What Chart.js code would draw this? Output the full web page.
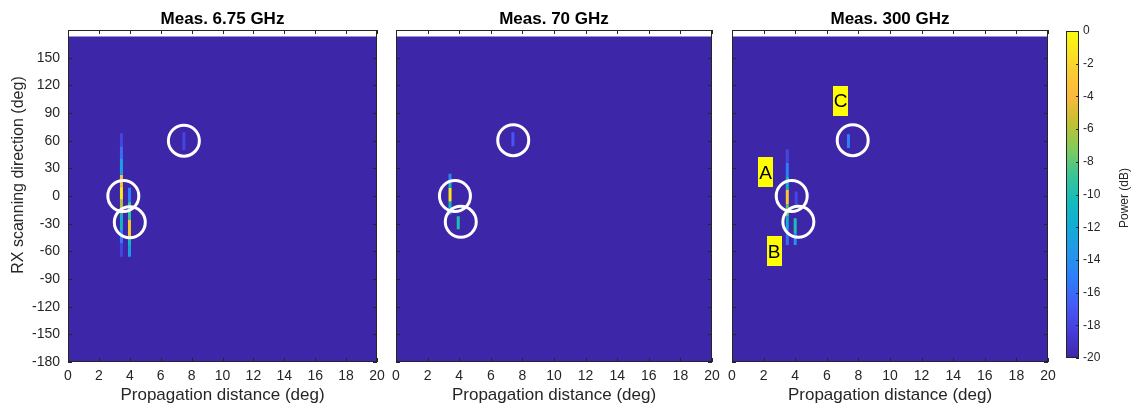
<!DOCTYPE html>
<html>
<head>
<meta charset="utf-8">
<script src="https://cdn.jsdelivr.net/npm/chart.js@4.4.1/dist/chart.umd.min.js"></script>
<style>
  html, body { margin: 0; padding: 0; background: #fff; }
  #wrap { position: relative; width: 1137px; height: 409px; overflow: hidden; }
  .pane { position: absolute; top: 0; height: 409px; }
  .pane canvas { display: block; }
</style>
</head>
<body>
<div id="wrap">
  <div class="pane" style="left:0px;width:401px"><canvas id="p1" width="401" height="409"></canvas></div>
  <div class="pane" style="left:372px;width:364px"><canvas id="p2" width="364" height="409"></canvas></div>
  <div class="pane" style="left:708px;width:364px"><canvas id="p3" width="364" height="409"></canvas></div>
  <div class="pane" style="left:1050px;width:87px"><canvas id="cb" width="87" height="409"></canvas></div>
</div>
<script>
// ---- axes ----
const xTicks = [0, 2, 4, 6, 8, 10, 12, 14, 16, 18, 20];
const yTicks = [-180, -150, -120, -90, -60, -30, 0, 30, 60, 90, 120, 150];
const cbTicks = [-20, -18, -16, -14, -12, -10, -8, -6, -4, -2, 0];
const panelTitles = ['Meas. 6.75 GHz', 'Meas. 70 GHz', 'Meas. 300 GHz'];

// ---- noise floor of the power map (dB) and its upper scan limit (deg) ----
const floorPower = -20;
const floorTopDeg = 173;

// ---- detected paths: distance (deg), scan-angle edges (deg), power per run (dB) ----
const rays675X = [3.46, 3.98, 7.5];
const rays675Edges = [[68, 54, 40, 23, 10.5, -4, -19, -37, -51, -66], [9, -6, -26, -44, -55, -66], [69, 50]];
const rays675Power = [[-18, -16, -13, -3, -1, -6, -11, -15, -18], [-15, -9, -3, -11, -13], [-18]];

const rays70X = [3.42, 3.94, 7.4];
const rays70Edges = [[24, 16, 9, -6, -13, -20], [-22, -36], [69, 54]];
const rays70Power = [[-15, -11, -1, -11, -14], [-10], [-17]];

const rays300X = [3.5, 4.0, 4.06, 7.37];
const rays300Edges = [[50.5, 36, 21.5, 7, -9, -22, -36, -53], [-24, -40, -53], [5, -12], [67, 52]];
const rays300Power = [[-18, -15, -11, -3, -8, -12, -16], [-10, -14], [-18], [-15]];

// ---- highlighted clusters (circles) ----
const rings675X = [3.58, 4.0, 7.5];
const rings675Y = [0, -28.5, 60];
const rings70X = [3.73, 4.1, 7.42];
const rings70Y = [0, -28, 60.5];
const rings300X = [3.78, 4.2, 7.64];
const rings300Y = [0, -28, 60.5];

// ---- cluster tags ----
const tagText = ['A', 'B', 'C'];
const tagX = [2.12, 2.66, 6.87];
const tagY = [25.5, -60, 103];

// ---- colormap ----
const PARULA = [
  [0.00, [62, 38, 168]], [0.08, [70, 60, 220]], [0.16, [70, 90, 245]],
  [0.24, [45, 125, 250]], [0.32, [35, 150, 235]], [0.40, [18, 172, 215]],
  [0.48, [20, 188, 188]], [0.56, [60, 196, 150]], [0.64, [130, 203, 90]],
  [0.72, [195, 192, 50]], [0.80, [250, 185, 60]], [0.88, [250, 205, 50]],
  [1.00, [249, 251, 14]]
];
function rgb(c) { return 'rgb(' + c.map(v => Math.round(v)).join(',') + ')'; }
function parula(db) {
  const t = Math.min(1, Math.max(0, (db + 20) / 20));
  for (let i = 1; i < PARULA.length; i++) {
    const [t1, c1] = PARULA[i];
    const [t0, c0] = PARULA[i - 1];
    if (t <= t1) {
      const f = (t - t0) / (t1 - t0);
      return rgb(c0.map((v, k) => v + (c1[k] - v) * f));
    }
  }
  return rgb(PARULA[PARULA.length - 1][1]);
}

const FONT = "'Liberation Sans', Arial, Helvetica, sans-serif";
const INK = '#262626';
Chart.defaults.font.family = FONT;
Chart.defaults.color = INK;

// box around the plot area with inward tick marks
const framePlugin = {
  id: 'frame',
  afterDatasetsDraw(chart, args, opts) {
    const { ctx, chartArea: a } = chart;
    const xs = chart.scales.x, ys = chart.scales.y;
    ctx.save();
    ctx.strokeStyle = INK;
    ctx.lineWidth = 1;
    const L = 4;
    ctx.beginPath();
    if (opts.kind === 'panel') {
      xTicks.forEach(v => {
        const px = Math.round(xs.getPixelForValue(v)) + 0.5;
        ctx.moveTo(px, a.bottom); ctx.lineTo(px, a.bottom - L);
        ctx.moveTo(px, a.top); ctx.lineTo(px, a.top + L);
      });
      yTicks.forEach(v => {
        const py = Math.round(ys.getPixelForValue(v)) + 0.5;
        ctx.moveTo(a.left, py); ctx.lineTo(a.left + L, py);
        ctx.moveTo(a.right, py); ctx.lineTo(a.right - L, py);
      });
    } else {
      cbTicks.forEach(v => {
        const py = Math.round(ys.getPixelForValue(v)) + 0.5;
        ctx.moveTo(a.right, py); ctx.lineTo(a.right - 3, py);
      });
    }
    ctx.stroke();
    ctx.strokeRect(Math.round(a.left) + 0.5, Math.round(a.top) + 0.5,
                   Math.round(a.right - a.left) - 1, Math.round(a.bottom - a.top) - 1);
    ctx.restore();
  }
};

// rotated axis captions that sit off-centre from the plot area
const captionPlugin = {
  id: 'caption',
  afterDraw(chart, args, opts) {
    if (!opts.text) return;
    const { ctx } = chart;
    ctx.save();
    ctx.translate(opts.x, opts.y);
    ctx.rotate(-Math.PI / 2);
    ctx.font = opts.size + 'px ' + FONT;
    ctx.fillStyle = INK;
    ctx.textAlign = 'center';
    ctx.textBaseline = 'middle';
    ctx.fillText(opts.text, 0, 0);
    ctx.restore();
  }
};

// yellow cluster tags placed in data coordinates
const tagPlugin = {
  id: 'tags',
  afterDatasetsDraw(chart, args, opts) {
    if (!opts.show) return;
    const { ctx } = chart;
    const xs = chart.scales.x, ys = chart.scales.y;
    ctx.save();
    tagText.forEach((t, i) => {
      const cx = xs.getPixelForValue(tagX[i]);
      const cy = ys.getPixelForValue(tagY[i]);
      ctx.fillStyle = '#ffff00';
      ctx.fillRect(Math.round(cx - 7.5), Math.round(cy - 15), 15, 30);
      ctx.fillStyle = '#000';
      ctx.font = '19px ' + FONT;
      ctx.textAlign = 'center';
      ctx.textBaseline = 'middle';
      ctx.fillText(t, cx, cy + 1);
    });
    ctx.restore();
  }
};

function rayDatasets(xs, edges, powers) {
  const out = [];
  xs.forEach((x, i) => {
    const e = edges[i], p = powers[i];
    for (let k = 0; k < p.length; k++) {
      out.push({
        data: [{ x: x, y: e[k] }, { x: x, y: e[k + 1] }],
        borderColor: parula(p[k]),
        borderWidth: 3,
        borderCapStyle: 'butt',
        pointRadius: 0,
        fill: false,
        order: 5
      });
    }
  });
  return out;
}

function makePanel(id, idx, rX, rE, rP, cX, cY, padL, padR) {
  const datasets = [];
  // noise floor fills the map from the bottom of the scan range
  datasets.push({
    data: [{ x: 0, y: floorTopDeg }, { x: 20, y: floorTopDeg }],
    borderWidth: 0,
    pointRadius: 0,
    fill: 'start',
    backgroundColor: parula(floorPower),
    order: 10
  });
  rayDatasets(rX, rE, rP).forEach(d => datasets.push(d));
  datasets.push({
    data: cX.map((x, i) => ({ x: x, y: cY[i] })),
    showLine: false,
    pointRadius: 15.5,
    pointBorderWidth: 3,
    pointBorderColor: '#ffffff',
    pointBackgroundColor: 'rgba(0,0,0,0)',
    order: 0
  });

  return new Chart(document.getElementById(id), {
    type: 'line',
    data: { datasets },
    plugins: [framePlugin, captionPlugin, tagPlugin],
    options: {
      responsive: false,
      animation: false,
      events: [],
      devicePixelRatio: 1,
      layout: { padding: { left: padL, right: padR, top: 0, bottom: 0 } },
      plugins: {
        legend: { display: false },
        tooltip: { enabled: false },
        title: {
          display: true,
          text: panelTitles[idx],
          fullSize: false,
          color: '#000',
          font: { size: 17, weight: 'bold' },
          padding: { top: 8.8, bottom: 0.8 }
        },
        frame: { kind: 'panel' },
        caption: idx === 0 ? { text: 'RX scanning direction (deg)', x: 18.5, y: 175, size: 16 } : {},
        tags: { show: idx === 2 }
      },
      scales: {
        x: {
          type: 'linear',
          min: 0, max: 20,
          afterBuildTicks: s => { s.ticks = xTicks.map(v => ({ value: v })); },
          grid: { display: false, drawTicks: false },
          border: { display: false },
          ticks: { font: { size: 14 }, color: INK, padding: 6, maxRotation: 0, autoSkip: false },
          title: { display: true, text: 'Propagation distance (deg)', font: { size: 17 }, color: INK, padding: { top: 0, bottom: 3 } },
          afterFit: s => { s.height = 47; }
        },
        y: {
          type: 'linear',
          min: -180, max: 180,
          afterBuildTicks: s => { s.ticks = yTicks.map(v => ({ value: v })); },
          grid: { display: false, drawTicks: false },
          border: { display: false },
          ticks: { display: idx === 0, font: { size: 14 }, color: INK, padding: 8, autoSkip: false },
          afterFit: s => { s.width = idx === 0 ? 68 : 0; }
        }
      }
    }
  });
}

makePanel('p1', 0, rays675X, rays675Edges, rays675Power, rings675X, rings675Y, 0, 24);
makePanel('p2', 1, rays70X, rays70Edges, rays70Power, rings70X, rings70Y, 24, 24);
makePanel('p3', 2, rays300X, rays300Edges, rays300Power, rings300X, rings300Y, 24, 24);

// ---- colour scale ----
new Chart(document.getElementById('cb'), {
  type: 'bar',
  data: {
    labels: [''],
    datasets: [{
      data: [[cbTicks[0], cbTicks[cbTicks.length - 1]]],
      barPercentage: 1,
      categoryPercentage: 1,
      borderWidth: 0,
      backgroundColor: (c) => {
        const ch = c.chart;
        if (!ch.chartArea) return parula(-10);
        const ys = ch.scales.y;
        const g = ch.ctx.createLinearGradient(0, ys.getPixelForValue(-20), 0, ys.getPixelForValue(0));
        PARULA.forEach(([t, col]) => g.addColorStop(t, rgb(col)));
        return g;
      }
    }]
  },
  plugins: [framePlugin, captionPlugin],
  options: {
    responsive: false,
    animation: false,
    events: [],
    devicePixelRatio: 1,
    layout: { padding: { left: 16, right: 0, top: 31, bottom: 51 } },
    plugins: {
      legend: { display: false },
      tooltip: { enabled: false },
      frame: { kind: 'bar' },
      caption: { text: 'Power (dB)', x: 75, y: 198, size: 12 }
    },
    scales: {
      x: { display: false },
      y: {
        position: 'right',
        min: -20, max: 0,
        afterBuildTicks: s => { s.ticks = cbTicks.map(v => ({ value: v })); },
        grid: { display: false, drawTicks: false },
        border: { display: false },
        ticks: { font: { size: 12 }, color: INK, padding: 4, autoSkip: false },
        afterFit: s => { s.width = 58; }
      }
    }
  }
});
</script>
</body>
</html>
